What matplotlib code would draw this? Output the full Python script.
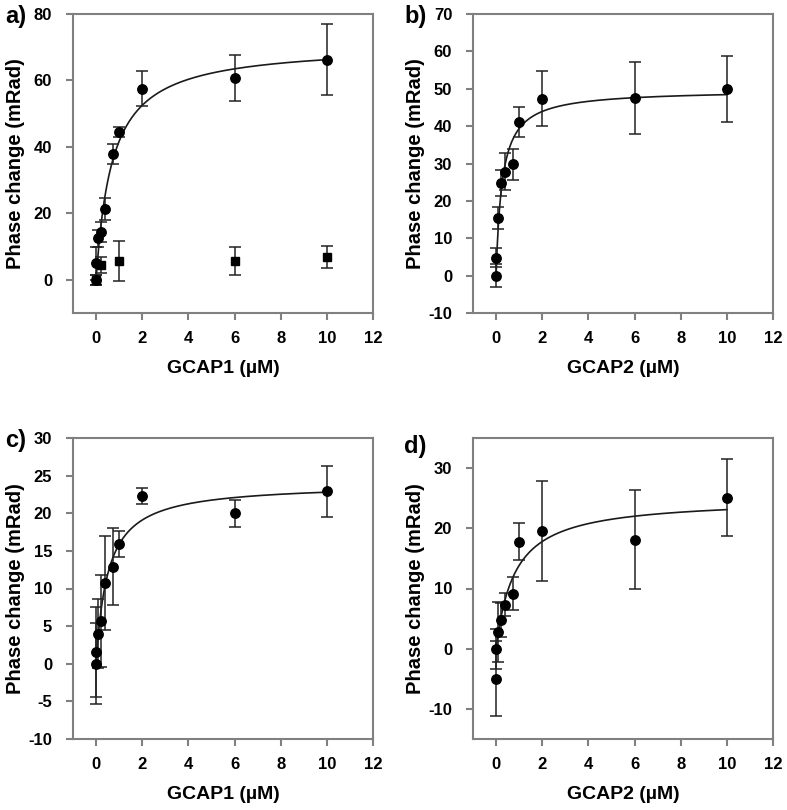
import numpy as np
import matplotlib
matplotlib.use("Agg")
import matplotlib.pyplot as plt

plt.rcParams['font.family'] = ['Liberation Sans', 'DejaVu Sans']
plt.rcParams['font.weight'] = 'bold'
plt.rcParams['axes.unicode_minus'] = False

# ---- data ----
conc = [0, 0.01, 0.08, 0.2, 0.4, 0.75, 1, 2, 6, 10]

a_y = [0, 5.0, 12.5, 14.5, 21.3, 37.8, 44.5, 57.5, 60.8, 66.3]
a_err = [1.5, 5.0, 2.5, 3.0, 3.2, 3.0, 1.5, 5.2, 7.0, 10.8]
a_sq_x = [0, 0.2, 1, 6, 10]
a_sq_y = [0, 4.5, 5.6, 5.6, 6.8]
a_sq_err = [1.5, 2.5, 6.0, 4.3, 3.4]
a_fit = (70.9, 0.70)   # Bmax, Kd

b_y = [0, 4.8, 15.4, 24.8, 27.8, 29.8, 41.1, 47.3, 47.5, 49.9]
b_err = [3.0, 2.5, 2.9, 3.4, 4.9, 4.2, 3.9, 7.4, 9.6, 8.8]
b_fit = (49.7, 0.263)

c_y = [0, 1.6, 4.0, 5.7, 10.7, 12.9, 15.9, 22.3, 20.0, 22.9]
c_err = [5.4, 6.0, 4.6, 6.1, 6.25, 5.1, 1.75, 1.05, 1.8, 3.4]
c_fit = (23.96, 0.509)

d_y = [-5.0, 0, 2.8, 4.8, 7.3, 9.1, 17.8, 19.6, 18.1, 25.1]
d_err = [6.2, 3.3, 5.0, 2.8, 1.9, 2.75, 3.1, 8.3, 8.25, 6.4]
d_fit = (24.96, 0.804)

panels = [
    dict(label='a)', y=a_y, err=a_err, fit=a_fit, ylim=(-10, 80), yticks=np.arange(0, 81, 20),
         xlabel='GCAP1 (µM)', rect=[73, 14, 373, 313], lab_xy=(5, 16)),
    dict(label='b)', y=b_y, err=b_err, fit=b_fit, ylim=(-10, 70), yticks=np.arange(-10, 71, 10),
         xlabel='GCAP2 (µM)', rect=[473, 14, 773, 313], lab_xy=(404, 16)),
    dict(label='c)', y=c_y, err=c_err, fit=c_fit, ylim=(-10, 30), yticks=np.arange(-10, 31, 5),
         xlabel='GCAP1 (µM)', rect=[73, 438, 373, 739], lab_xy=(5, 441)),
    dict(label='d)', y=d_y, err=d_err, fit=d_fit, ylim=(-15, 35), yticks=np.arange(-10, 31, 10),
         xlabel='GCAP2 (µM)', rect=[473, 438, 773, 739], lab_xy=(404, 447)),
]

W, H = 787, 810
fig = plt.figure(figsize=(W / 100, H / 100), dpi=100)
spine_col = '#808080'

for i, p in enumerate(panels):
    l, t, r, b = p['rect']
    ax = fig.add_axes([l / W, 1 - b / H, (r - l) / W, (b - t) / H])
    xf = np.linspace(0, 10, 400)
    Bm, Kd = p['fit']
    ax.plot(xf, Bm * xf / (Kd + xf), color='#1a1a1a', lw=1.2, zorder=2)
    ax.errorbar(conc, p['y'], yerr=p['err'], fmt='o', color='black', ms=6.8,
                ecolor='#222222', elinewidth=1.1, capsize=4.5, capthick=1.1, zorder=3)
    if i == 0:
        ax.errorbar(a_sq_x, a_sq_y, yerr=a_sq_err, fmt='s', color='black', ms=6,
                    ecolor='#222222', elinewidth=1.1, capsize=4.5, capthick=1.1, zorder=3)
    ax.set_xlim(-1, 12)
    ax.set_ylim(*p['ylim'])
    ax.set_xticks(np.arange(0, 13, 2))
    ax.set_yticks(p['yticks'])
    for s in ax.spines.values():
        s.set_color(spine_col)
        s.set_linewidth(1.5)
    ax.tick_params(direction='out', length=5, width=1.5, color=spine_col,
                   labelsize=12)
    ax.tick_params(axis='y', pad=10)
    ax.tick_params(axis='x', pad=8)
    for lab in ax.get_xticklabels() + ax.get_yticklabels():
        lab.set_fontweight('bold')
    ax.set_xlabel(p['xlabel'], fontsize=14, fontweight='bold', labelpad=10)
    ax.set_ylabel('Phase change (mRad)', fontsize=14.5, fontweight='bold')
    lab_right = 25 if i % 2 == 0 else 425
    ax.yaxis.set_label_coords((lab_right - l) / (r - l), 0.5)
    lx, ly = p['lab_xy']
    fig.text(lx / W, 1 - ly / H, p['label'], fontsize=17, fontweight='bold',
             ha='left', va='center')

fig.savefig('out.png', dpi=100)
